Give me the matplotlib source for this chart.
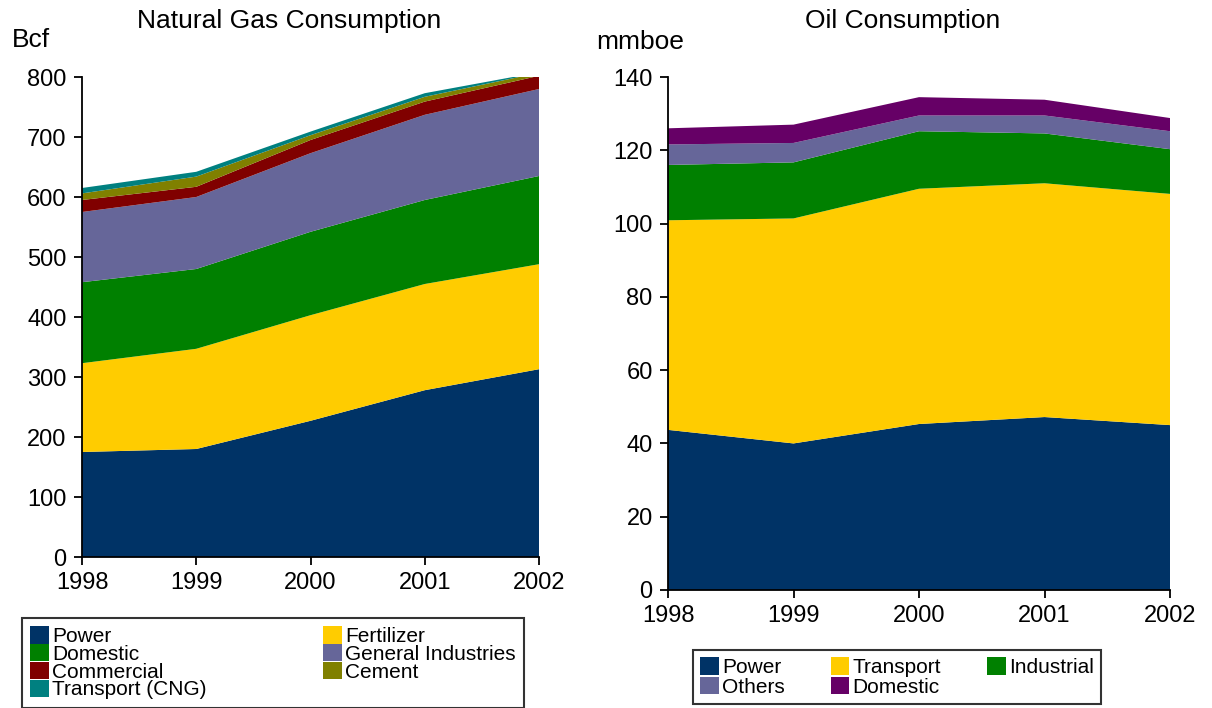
import matplotlib
matplotlib.use("Agg")
import matplotlib.pyplot as plt
from matplotlib.patches import Patch

plt.rcParams['font.family'] = ['Liberation Sans', 'DejaVu Sans']

years = [1998, 1999, 2000, 2001, 2002]

# Natural gas consumption (Bcf)
gas_labels = ["Power", "Fertilizer", "Domestic", "General Industries",
              "Commercial", "Cement", "Transport (CNG)"]
gas_power = [175, 180, 227, 278, 313]
gas_fertilizer = [148, 167, 176, 177, 175]
gas_domestic = [135, 133, 139, 140, 147]
gas_general = [117, 120, 131, 142, 145]
gas_commercial = [20, 17, 22, 22, 22]
gas_cement = [11, 17, 8, 8, 5]
gas_cng = [9, 8, 6, 6, 1]
gas_colors = ["#003366", "#FFCC00", "#008000", "#666699",
              "#800000", "#808000", "#008080"]

# Oil consumption (mmboe)
oil_labels = ["Power", "Transport", "Industrial", "Others", "Domestic"]
oil_power = [43.7, 40.0, 45.3, 47.2, 45.0]
oil_transport = [57.2, 61.4, 64.2, 63.8, 63.1]
oil_industrial = [15.1, 15.3, 15.7, 13.6, 12.2]
oil_others = [5.6, 5.3, 4.3, 4.9, 4.9]
oil_domestic = [4.4, 5.0, 5.0, 4.3, 3.6]
oil_colors = ["#003366", "#FFCC00", "#008000", "#666699", "#660066"]

W, H = 1212, 708
fig = plt.figure(figsize=(W / 100, H / 100), dpi=100)

def style(ax):
    for s in ["top", "right"]:
        ax.spines[s].set_visible(False)
    for s in ["left", "bottom"]:
        ax.spines[s].set_linewidth(1.3)
    ax.tick_params(axis="both", direction="out", length=6, width=1.3,
                   labelsize=17, pad=5)
    ax.set_xlim(1998, 2002)
    ax.set_xticks(years)
    ax.set_xticklabels([str(y) for y in years])

# Left: natural gas
ax1 = fig.add_axes([82 / W, 1 - 557 / H, 457 / W, 480 / H])
ax1.stackplot(years, gas_power, gas_fertilizer, gas_domestic, gas_general,
              gas_commercial, gas_cement, gas_cng, colors=gas_colors,
              linewidth=0)
ax1.set_ylim(0, 800)
ax1.set_yticks(range(0, 801, 100))
style(ax1)
fig.text(289 / W, 1 - 21 / H, "Natural Gas Consumption", ha="center",
         va="center", fontsize=19)
fig.text(12 / W, 1 - 40 / H, "Bcf", ha="left", va="center", fontsize=19)

# Right: oil
ax2 = fig.add_axes([668 / W, 1 - 590 / H, 502 / W, 513 / H])
ax2.stackplot(years, oil_power, oil_transport, oil_industrial, oil_others,
              oil_domestic, colors=oil_colors, linewidth=0)
ax2.set_ylim(0, 140)
ax2.set_yticks(range(0, 141, 20))
style(ax2)
fig.text(903 / W, 1 - 21 / H, "Oil Consumption", ha="center",
         va="center", fontsize=19)
fig.text(596 / W, 1 - 42 / H, "mmboe", ha="left", va="center", fontsize=19)

# Legends
gas_order = [0, 2, 4, 6, 1, 3, 5]
gas_handles = [Patch(facecolor=gas_colors[i], edgecolor="none") for i in gas_order]
leg1 = fig.legend(gas_handles, [gas_labels[i] for i in gas_order],
                  loc="upper left", bbox_to_anchor=(22 / W, 1 - 618 / H),
                  ncol=2, fontsize=15, frameon=True, fancybox=False,
                  handlelength=0.9, handleheight=0.9, handletextpad=0.15,
                  labelspacing=-0.1, columnspacing=5.6, borderpad=0.4,
                  borderaxespad=0)
leg1.get_frame().set_edgecolor("black")
leg1.get_frame().set_linewidth(1.5)

oil_order = [0, 3, 1, 4, 2]
oil_handles = [Patch(facecolor=oil_colors[i], edgecolor="none") for i in oil_order]
leg2 = fig.legend(oil_handles, [oil_labels[i] for i in oil_order],
                  loc="upper left", bbox_to_anchor=(693 / W, 1 - 650 / H),
                  ncol=3, fontsize=15, frameon=True, fancybox=False,
                  handlelength=0.9, handleheight=0.9, handletextpad=0.15,
                  labelspacing=0.0, columnspacing=2.2, borderpad=0.35,
                  borderaxespad=0)
leg2.get_frame().set_edgecolor("black")
leg2.get_frame().set_linewidth(1.5)

fig.savefig("out.png", dpi=100)
